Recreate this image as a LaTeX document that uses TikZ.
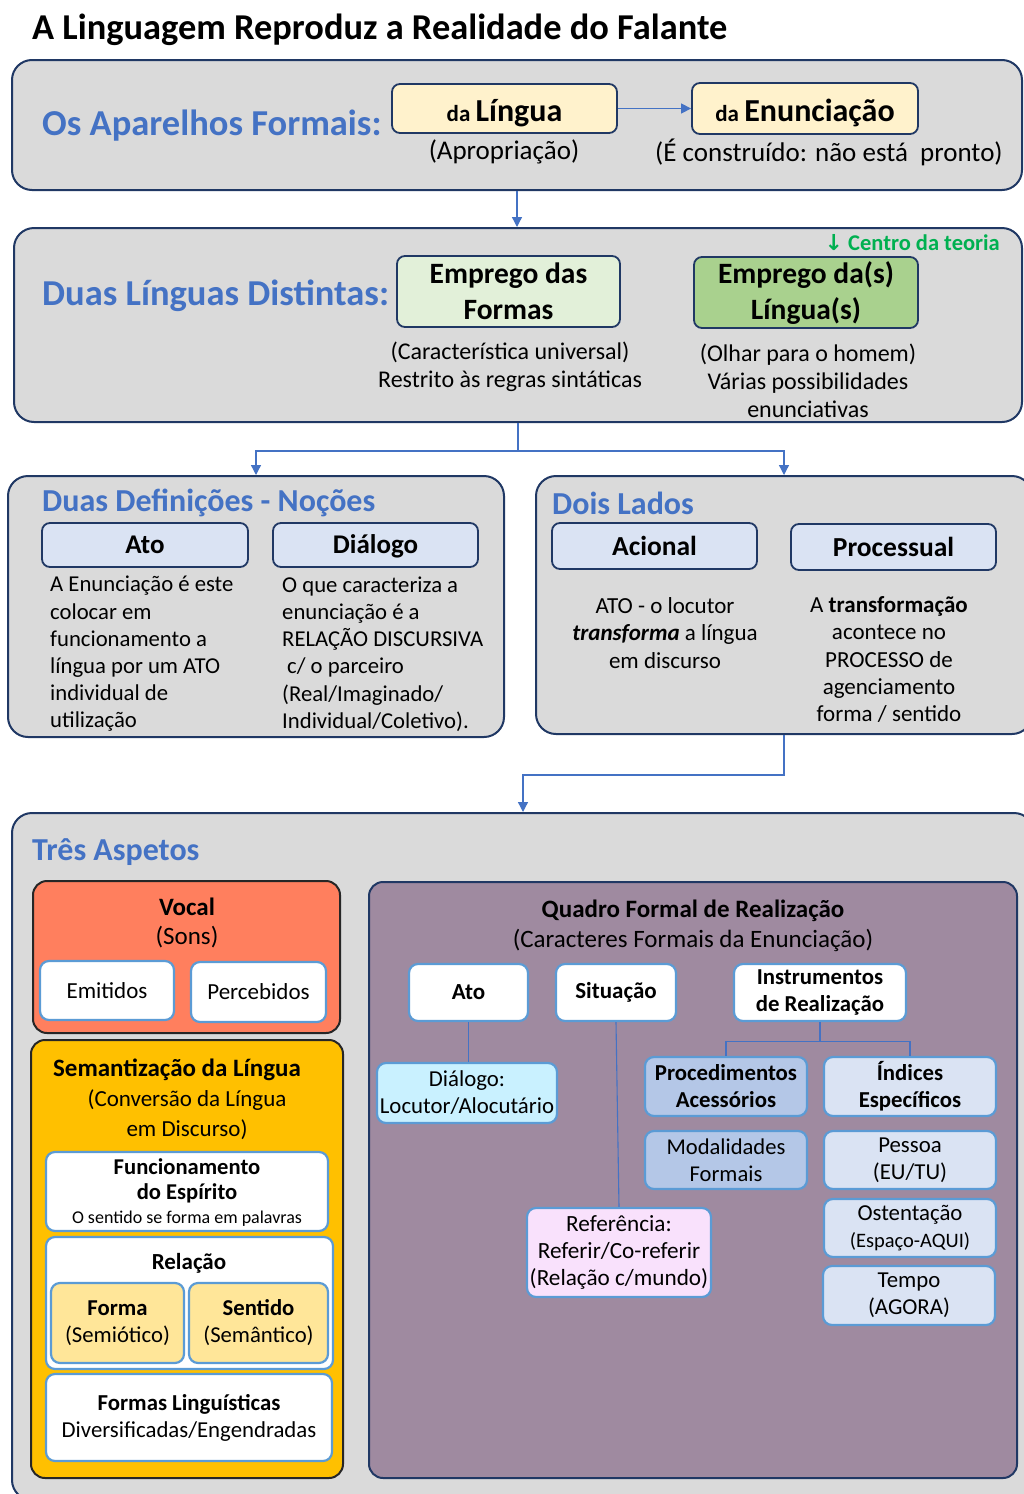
\documentclass[tikz,border=0pt]{standalone}
\usepackage{fontspec}
\setmainfont{Carlito}
\newfontfamily\djv{DejaVu Sans}
\usetikzlibrary{arrows.meta}
\definecolor{navy}{HTML}{203864}
\definecolor{boxgray}{HTML}{DADADA}
\definecolor{hblue}{HTML}{4472C4}
\definecolor{cblue}{HTML}{4472C4}
\definecolor{ltblue}{HTML}{5B9BD5}
\definecolor{ylw}{HTML}{FFF2CC}
\definecolor{ltgreen}{HTML}{E2F0D9}
\definecolor{midgreen}{HTML}{A9D18E}
\definecolor{tgreen}{HTML}{00B050}
\definecolor{hdrblue}{HTML}{DAE3F3}
\definecolor{coral}{HTML}{FF7F5E}
\definecolor{orng}{HTML}{FFC000}
\definecolor{pyellow}{HTML}{FFE699}
\definecolor{mauve}{HTML}{9F8AA0}
\definecolor{cyanb}{HTML}{C9F1FF}
\definecolor{pinkb}{HTML}{F9E1FC}
\definecolor{procb}{HTML}{B4C7E7}
\definecolor{darkb}{HTML}{262626}
\newcommand\fsz[2]{\fontsize{#1}{#2}\selectfont}
\newcommand\bx[7]{%
  \pgfmathsetmacro\bw{#5-#3}\pgfmathsetmacro\bh{#6-#4}%
  \pgfmathsetmacro\bcx{(#3+#5)/2}\pgfmathsetmacro\bcy{(#4+#6)/2}%
  \node[#2, minimum width=\bw pt, minimum height=\bh pt] (#1) at (\bcx,\bcy) {#7};}
\tikzset{
  x=1pt,y=-1pt,
  container/.style={draw=navy, line width=2pt, fill=boxgray, rounded corners=20pt, inner sep=0pt},
  hdr/.style={draw=navy, line width=1.8pt, rounded corners=8pt, inner sep=0pt, align=center},
  inbox/.style={draw=ltblue, line width=2.2pt, rounded corners=9pt, inner sep=0pt, align=center},
  darkbox/.style={draw=darkb, line width=2pt, rounded corners=14pt, inner sep=0pt},
  txt/.style={inner sep=0pt, align=center},
  bluehead/.style={inner sep=0pt, anchor=west, text=hblue, font=\bfseries\fsz{32}{36}},
  conn/.style={draw=cblue, line width=1.3pt},
  tip/.style={-{Triangle[width=10pt,length=10pt]}},
}
\begin{document}
\begin{tikzpicture}
\useasboundingbox (0,0) rectangle (1024,1494);
\clip (0,0) rectangle (1024,1494);
\fill[white] (0,0) rectangle (1024,1494);

% title
\node[txt, anchor=west, font=\bfseries\fsz{36.4}{40}] (title) at (32,30) {A Linguagem Reproduz a Realidade do Falante};

% box 1
\bx{b1}{container}{12}{60}{1022}{190}{}
\node[bluehead, font=\bfseries\fsz{36.5}{40}] (h1) at (42,126) {Os Aparelhos Formais:};
\bx{dal}{hdr, fill=ylw}{392}{84}{617}{133}{\raisebox{-3pt}[20pt][0pt]{{\bfseries\fsz{23}{26}da\ }{\bfseries\fsz{32}{34}Língua}}}
\bx{daen}{hdr, fill=ylw}{692}{83}{918}{134}{\raisebox{-3pt}[20pt][0pt]{{\bfseries\fsz{23}{26}da\ }{\bfseries\fsz{32}{34}Enunciação}}}
\draw[conn, tip] (dal.east) -- (daen.west);
\node[txt, font=\fsz{27}{30}] (apro) at (504,152) {(Apropriação)};
\node[txt, font=\fsz{27}{30}] (constr) at (829,152) {(É construído: não está\ \ pronto)};

% box 2
\bx{b2}{container}{14}{228}{1022}{422}{}
\draw[conn, tip] (b1.south) -- (b1.south |- b2.north);
\node[txt, anchor=east, text=tgreen, font=\bfseries\fsz{22.5}{24}] (centro) at (1000,243) {{\djv\bfseries\fsz{22}{24}↓} Centro da teoria};
\node[bluehead, font=\bfseries\fsz{36.5}{40}] (h2) at (42,296) {Duas Línguas Distintas:};
\bx{formas}{hdr, fill=ltgreen, font=\bfseries\fsz{29.5}{36}}{397}{256}{620}{327}{Emprego das\\Formas}
\bx{linguas}{hdr, fill=midgreen, font=\bfseries\fsz{29.5}{36}}{694}{257}{918}{328}{\raisebox{-2pt}[20pt][6pt]{Emprego da(s)}\\\raisebox{-2pt}[20pt][6pt]{Língua(s)}}
\node[txt, font=\fsz{24}{28}] (carac) at (510,367) {(Característica universal)\\Restrito às regras sintáticas};
\node[txt, font=\fsz{24}{28}] (olhar) at (808,381) {(Olhar para o homem)\\Várias possibilidades\\enunciativas};

% box 3 and 4
\bx{b3}{container}{8}{476}{504}{737}{}
\bx{b4}{container}{536}{476}{1032}{734}{}
\draw[conn, tip] (b2.south) -- ++(0,28) -| (b3.north);
\draw[conn, tip] (b2.south) -- ++(0,28) -| (b4.north);

\node[bluehead] (h3) at (42,503) {Duas Definições - Noções};
\bx{ato1}{hdr, fill=hdrblue, font=\bfseries\fsz{27}{30}}{42}{523}{248}{567}{Ato}
\bx{dial1}{hdr, fill=hdrblue, font=\bfseries\fsz{27}{30}}{273}{523}{478}{567}{\raisebox{-2pt}[18pt][5pt]{Diálogo}}
\node[txt, anchor=west, align=left, font=\fsz{22.7}{27.2}] (atotxt) at (50,654) {A Enunciação é este\\colocar em\\funcionamento a\\língua por um ATO\\individual de\\utilização};
\node[txt, anchor=west, align=left, font=\fsz{22.7}{27.2}] (dialtxt) at (282,654) {O que caracteriza a\\enunciação é a\\RELAÇÃO DISCURSIVA\\\hspace{5pt}c/ o parceiro\\(Real/Imaginado/\\Individual/Coletivo).};

\node[bluehead] (h4) at (552,503) {Dois Lados};
\bx{acional}{hdr, fill=hdrblue, font=\bfseries\fsz{27.5}{30}}{552}{523}{757}{569}{Acional}
\bx{proces}{hdr, fill=hdrblue, font=\bfseries\fsz{27.5}{30}}{791}{524}{996}{570}{Processual}
\node[txt, font=\fsz{23}{27.5}] (acitxt) at (665,633) {ATO - o locutor\\\textbf{\textit{transforma}} a língua\\em discurso};
\node[txt, font=\fsz{23}{27.2}] (protxt) at (889,659.5) {A \textbf{transformação}\\acontece no\\PROCESSO de\\agenciamento\\forma / sentido};

% box 5
\bx{b5}{container}{12}{813}{1034}{1500}{}
\draw[conn, tip] (b4.south) -- ++(0,40) -| (b5.north);
\node[bluehead] (h5) at (32,852) {Três Aspetos};

% vocal
\bx{vocal}{darkbox, fill=coral}{33}{881}{340}{1033}{}
\node[txt, font=\fsz{25}{29}] (vocaltxt) at (187,923) {\textbf{Vocal}\\(Sons)};
\bx{emit}{inbox, fill=white, font=\fsz{23}{26}}{40}{961}{174}{1020}{Emitidos}
\bx{perc}{inbox, fill=white, font=\fsz{23}{26}}{191}{962}{326}{1022}{Percebidos}

% semantizacao
\bx{sem}{darkbox, fill=orng}{31}{1040}{343}{1478}{}
\node[txt, font=\bfseries\fsz{25}{28}] (semtit) at (177,1070) {Semantização da Língua};
\node[txt, font=\fsz{23}{30}] (conv) at (187,1115) {(Conversão da Língua\\em Discurso)};
\bx{func}{inbox, fill=white}{46}{1152}{328}{1231}{}
\node[txt, font=\bfseries\fsz{22.6}{25}] (functxt) at (187,1181) {Funcionamento\\do Espírito};
\node[txt, font=\fsz{18}{19}] (sentido1) at (187,1219) {O sentido se forma em palavras};
\bx{rel}{inbox, fill=white}{46}{1237}{333}{1369}{}
\node[txt, font=\bfseries\fsz{23}{26}] (reltxt) at (189,1263) {Relação};
\bx{forma}{inbox, fill=pyellow, font=\fsz{22.7}{27}}{51}{1283}{184}{1363}{\textbf{Forma}\\(Semiótico)}
\bx{sentido}{inbox, fill=pyellow, font=\fsz{22.7}{27}}{189}{1283}{328}{1363}{\textbf{Sentido}\\(Semântico)}
\bx{formasl}{inbox, fill=white, font=\fsz{22.8}{27}}{46}{1374}{332}{1461}{\textbf{Formas Linguísticas}\\Diversificadas/Engendradas}

% quadro
\bx{quadro}{darkbox, draw=navy, fill=mauve}{369}{882}{1017}{1478}{}
\node[txt, font=\fsz{25}{30}] (quadtxt) at (693,926) {\textbf{Quadro Formal de Realização}\\(Caracteres Formais da Enunciação)};
\bx{ato2}{inbox, fill=white, font=\bfseries\fsz{23}{27}}{409}{964}{528}{1021}{Ato}
\bx{sit}{inbox, fill=white, font=\bfseries\fsz{23}{27}}{556}{964}{676}{1021}{Situação}
\bx{instr}{inbox, fill=white, font=\bfseries\fsz{22.8}{27}}{734}{964}{906}{1021}{Instrumentos\\de Realização}
\bx{dial2}{inbox, fill=cyanb, font=\fsz{22.8}{27}}{377}{1063}{557}{1123}{Diálogo:\\Locutor/Alocutário}
\bx{ref}{inbox, fill=pinkb, font=\fsz{23.2}{27}}{527}{1208}{711}{1297}{Referência:\\Referir/Co-referir\\(Relação c/mundo)}
\bx{proc}{inbox, fill=procb, font=\bfseries\fsz{22.8}{27}}{645}{1057}{807}{1116}{Procedimentos\\Acessórios}
\bx{ind}{inbox, fill=hdrblue, font=\bfseries\fsz{22.8}{27}}{824}{1057}{996}{1116}{Índices\\Específicos}
\bx{mod}{inbox, fill=procb, font=\fsz{22.6}{27}}{645}{1131}{807}{1189}{Modalidades\\Formais}
\bx{pes}{inbox, fill=hdrblue, font=\fsz{22.8}{27}}{824}{1131}{996}{1189}{Pessoa\\(EU/TU)}
\bx{ost}{inbox, fill=hdrblue, font=\fsz{22.8}{27}}{824}{1199}{996}{1257}{Ostentação\\{\fsz{20.5}{27}(Espaço-AQUI)}}
\bx{tempo}{inbox, fill=hdrblue, font=\fsz{22.8}{27}}{823}{1266}{995}{1325}{Tempo\\(AGORA)}

\draw[conn, line width=1.1pt] (ato2.south) -- (ato2.south |- dial2.north);
\draw[conn, line width=1.1pt] (sit.south) -- (ref.north);
\draw[conn, line width=1.1pt] (instr.south) -- ++(0,19) -| (proc.north);
\draw[conn, line width=1.1pt] (instr.south) -- ++(0,19) -| (ind.north);
\end{tikzpicture}
\end{document}
